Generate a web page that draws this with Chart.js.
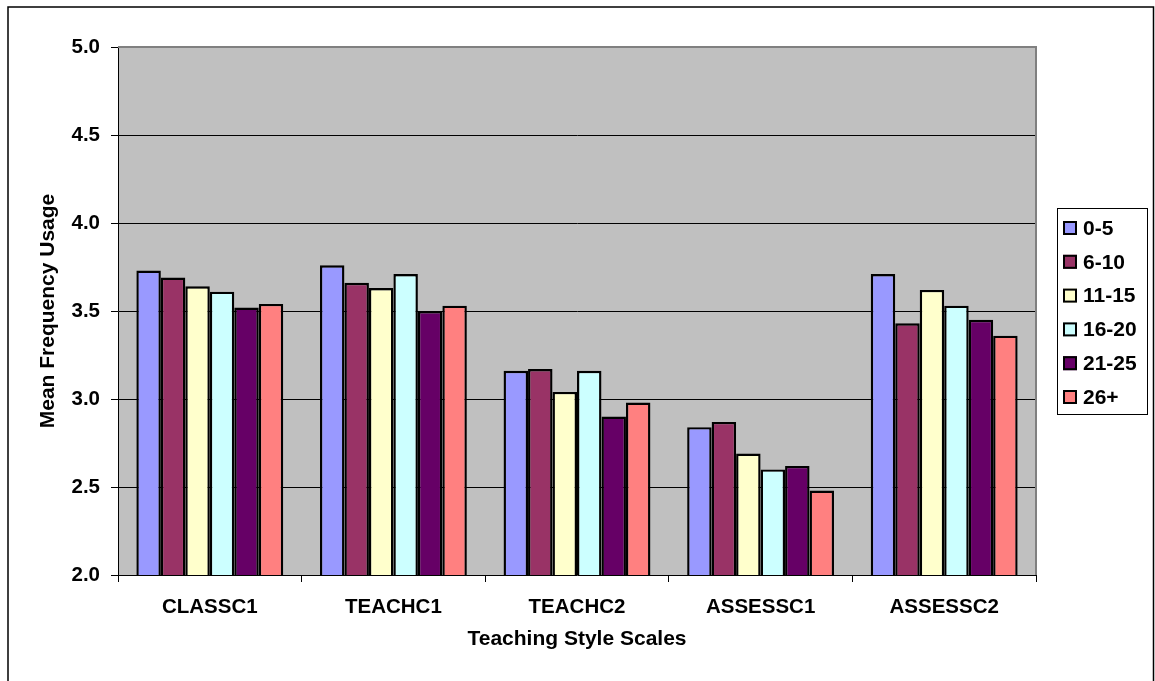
<!DOCTYPE html>
<html>
<head>
<meta charset="utf-8">
<title>Mean Frequency Usage by Teaching Style Scale</title>
<script src="https://cdn.jsdelivr.net/npm/chart.js@4/dist/chart.umd.min.js"></script>
<style>
  html, body { margin: 0; padding: 0; background: #fff; }
  #wrap { width: 1155px; height: 681px; position: relative; }
  canvas { display: block; }
</style>
</head>
<body>
<div id="wrap"><canvas id="chart" width="1155" height="681"></canvas></div>
<script>
// Teaching style scales on the category axis
const categories = ['CLASSC1', 'TEACHC1', 'TEACHC2', 'ASSESSC1', 'ASSESSC2'];

// Years-of-experience groups (one series each)
const groupLabels = ['0-5', '6-10', '11-15', '16-20', '21-25', '26+'];

// Mean frequency usage per group, in category order
const years0to5   = [3.73, 3.76, 3.16, 2.84, 3.71];
const years6to10  = [3.69, 3.66, 3.17, 2.87, 3.43];
const years11to15 = [3.64, 3.63, 3.04, 2.69, 3.62];
const years16to20 = [3.61, 3.71, 3.16, 2.60, 3.53];
const years21to25 = [3.52, 3.50, 2.90, 2.62, 3.45];
const years26plus = [3.54, 3.53, 2.98, 2.48, 3.36];

// Value-axis ticks
const yTickValues = [2.0, 2.5, 3.0, 3.5, 4.0, 4.5, 5.0];

const seriesValues = [years0to5, years6to10, years11to15, years16to20, years21to25, years26plus];
const seriesColors = ['#9999FF', '#993366', '#FFFFCC', '#CCFFFF', '#660066', '#FF8080'];

const FONT = "'Liberation Sans', Arial, Helvetica, sans-serif";

// Page background, outer frame and grey plot area
const backdrop = {
  id: 'backdrop',
  beforeDraw(chart) {
    const { ctx, width, height, chartArea: a } = chart;
    ctx.save();
    ctx.fillStyle = '#ffffff';
    ctx.fillRect(0, 0, width, height);
    ctx.strokeStyle = '#000000';
    ctx.lineWidth = 1.5;
    ctx.beginPath();
    ctx.moveTo(8, height + 2);
    ctx.lineTo(8, 7);
    ctx.lineTo(width - 1.5, 7);
    ctx.lineTo(width - 1.5, height + 2);
    ctx.stroke();
    ctx.fillStyle = '#C0C0C0';
    ctx.fillRect(a.left, a.top, a.right - a.left, a.bottom - a.top);
    ctx.restore();
  },
  afterDatasetsDraw(chart) {
    const { ctx, chartArea: a } = chart;
    ctx.save();
    ctx.strokeStyle = '#808080';
    ctx.lineWidth = 2;
    ctx.beginPath();
    ctx.moveTo(a.left, a.top);
    ctx.lineTo(a.right, a.top);
    ctx.lineTo(a.right, a.bottom);
    ctx.stroke();
    ctx.restore();
  }
};

// Boxed legend to the right of the plot area
const boxedLegend = {
  id: 'boxedLegend',
  afterDraw(chart) {
    const { ctx, chartArea: a } = chart;
    const ds = chart.data.datasets;
    const boxW = 90, boxH = 206;
    const left = a.right + 21;
    const top = Math.round((a.top + a.bottom) / 2 - boxH / 2);
    const step = 33.8;
    ctx.save();
    ctx.strokeStyle = '#000000';
    ctx.lineWidth = 1;
    ctx.strokeRect(left + 0.5, top + 0.5, boxW, boxH);
    ctx.font = 'bold 21px ' + FONT;
    ctx.textBaseline = 'middle';
    ctx.textAlign = 'left';
    ds.forEach((d, i) => {
      const cy = top + 20 + i * step;
      ctx.fillStyle = d.backgroundColor;
      ctx.fillRect(left + 6, cy - 7, 14, 14);
      ctx.lineWidth = 2;
      ctx.strokeStyle = '#000000';
      ctx.strokeRect(left + 7, cy - 6, 12, 12);
      ctx.fillStyle = '#000000';
      ctx.fillText(d.label, left + 26, cy + 1);
    });
    ctx.restore();
  }
};

const datasets = groupLabels.map((label, i) => ({
  label: label,
  data: seriesValues[i],
  backgroundColor: seriesColors[i],
  borderColor: '#000000',
  borderWidth: 2.4,
  borderSkipped: false,
  categoryPercentage: 0.8,
  barPercentage: 1.0
}));

new Chart(document.getElementById('chart'), {
  type: 'bar',
  data: { labels: categories, datasets: datasets },
  plugins: [backdrop, boxedLegend],
  options: {
    responsive: false,
    devicePixelRatio: 1,
    animation: false,
    layout: { padding: { top: 47, right: 119, bottom: 0, left: 0 } },
    plugins: {
      legend: { display: false },
      tooltip: { enabled: false },
      title: { display: false }
    },
    scales: {
      x: {
        offset: true,
        afterFit(scale) { scale.height = 106; },
        grid: {
          offset: true,
          drawOnChartArea: false,
          drawTicks: true,
          tickLength: 7,
          color: '#000000',
          tickColor: '#000000',
          lineWidth: 1
        },
        border: { display: true, color: '#000000', width: 1 },
        ticks: {
          color: '#000000',
          padding: 13,
          maxRotation: 0,
          font: { family: FONT, size: 20.5, weight: 'bold' }
        },
        title: {
          display: true,
          text: 'Teaching Style Scales',
          color: '#000000',
          padding: { top: 0, bottom: 29 },
          font: { family: FONT, size: 21, weight: 'bold' }
        }
      },
      y: {
        min: yTickValues[0],
        max: yTickValues[yTickValues.length - 1],
        afterFit(scale) { scale.width = 118; },
        afterBuildTicks(scale) { scale.ticks = yTickValues.map(v => ({ value: v })); },
        grid: {
          drawOnChartArea: true,
          drawTicks: true,
          tickLength: 7,
          color: (c) => (c.tick && (c.tick.value === 5 || c.tick.value === 2)) ? 'rgba(0,0,0,0)' : '#000000',
          tickColor: '#000000',
          lineWidth: 1
        },
        border: { display: true, color: '#000000', width: 1 },
        ticks: {
          color: '#000000',
          padding: 11,
          callback: (v) => Number(v).toFixed(1),
          font: { family: FONT, size: 20.5, weight: 'bold' }
        },
        title: {
          display: true,
          text: 'Mean Frequency Usage',
          color: '#000000',
          padding: { top: 36, bottom: 0 },
          font: { family: FONT, size: 21, weight: 'bold' }
        }
      }
    }
  }
});
</script>
</body>
</html>
